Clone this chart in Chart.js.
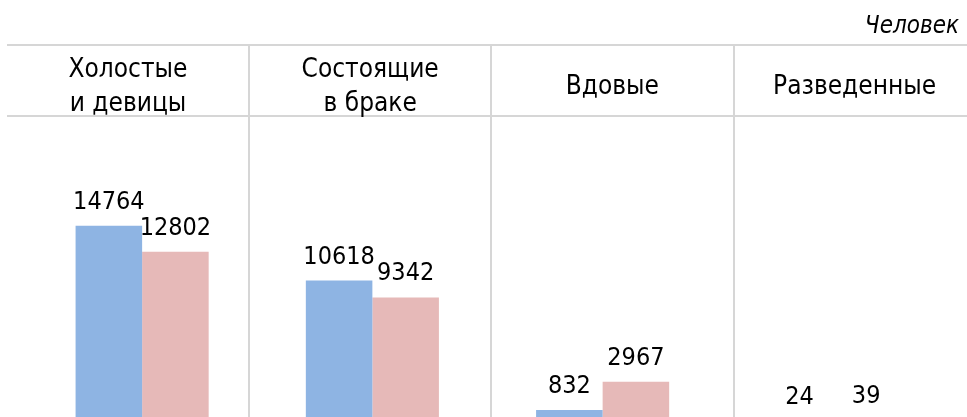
<!DOCTYPE html>
<html>
<head>
<meta charset="utf-8">
<script src="https://cdn.jsdelivr.net/npm/chart.js@4"></script>
<style>
    html, body { margin: 0; padding: 0; background: #fff; }
    #wrap { position: relative; width: 967px; height: 417px; overflow: hidden; font-family: "DejaVu Sans Condensed", "DejaVu Sans", sans-serif; color: #000; }
    #chartBox { position: absolute; left: 0; top: 0; width: 967px; height: 430px; }
    .unit { position: absolute; right: 8px; top: 11px; font-size: 24px; font-style: italic; }
    .hline { position: absolute; left: 7px; width: 960px; height: 2px; background: #d6d6d6; }
    .vline { position: absolute; top: 44px; width: 2px; height: 380px; background: #d6d6d6; }
    .cell { position: absolute; top: 47px; height: 76px; width: 242px; display: flex; align-items: center; justify-content: center; text-align: center; font-size: 26px; line-height: 34px; }
</style>
</head>
<body>
<div id="wrap">
    <div id="chartBox"><canvas id="marriageBar" width="967" height="430"></canvas></div>
    <div class="unit">Человек</div>
    <div class="hline" style="top:44px"></div>
    <div class="hline" style="top:115px"></div>
    <div id="header"></div>
</div>
<script>
const categories = [["Холостые", "и девицы"], ["Состоящие", "в браке"], ["Вдовые"], ["Разведенные"]];
const menValues = [14764, 10618, 832, 24];
const womenValues = [12802, 9342, 2967, 39];

document.addEventListener("DOMContentLoaded", function () {
    const header = document.getElementById("header");
    const cellW = 242.2;

    categories.forEach((lines, i) => {
        const cell = document.createElement("div");
        cell.className = "cell";
        cell.style.left = (7 + i * cellW) + "px";
        cell.innerHTML = lines.join("<br>");
        header.appendChild(cell);
        if (i > 0) {
            const v = document.createElement("div");
            v.className = "vline";
            v.style.left = Math.round(7 + i * cellW - 1) + "px";
            header.appendChild(v);
        }
    });

    // value labels above bars
    const valueLabels = {
        id: "valueLabels",
        afterDatasetsDraw(chart) {
            const c = chart.ctx;
            c.save();
            c.font = '25px "DejaVu Sans Condensed", "DejaVu Sans", sans-serif';
            c.fillStyle = "#000";
            c.textAlign = "center";
            c.textBaseline = "alphabetic";
            chart.data.datasets.forEach((ds, di) => {
                chart.getDatasetMeta(di).data.forEach((bar, i) => {
                    c.fillText(String(ds.data[i]), bar.x, bar.y - 17);
                });
            });
            c.restore();
        }
    };

    const ctx = document.getElementById("marriageBar");
    new Chart(ctx, {
        type: 'bar',
        data: {
            labels: categories.map(l => l.join(" ")),
            datasets: [
                {
                    label: "Мужчины",
                    backgroundColor: "#8eb4e3",
                    data: menValues,
                    barPercentage: 1,
                    categoryPercentage: 0.578
                },
                {
                    label: "Женщины",
                    backgroundColor: "#e6b9b8",
                    data: womenValues,
                    barPercentage: 1,
                    categoryPercentage: 0.578
                }
            ]
        },
        options: {
            responsive: false,
            animation: false,
            layout: { padding: { top: 130, bottom: 9, left: 27, right: 19 } },
            plugins: { legend: { display: false }, tooltip: { enabled: false } },
            scales: {
                x: { display: false },
                y: { display: false, min: 0, max: 22000 }
            }
        },
        plugins: [valueLabels]
    });
});
</script>
</body>
</html>
